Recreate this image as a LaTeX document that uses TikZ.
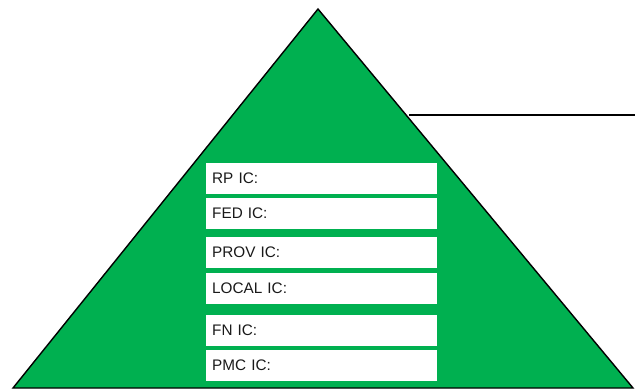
\documentclass[tikz,border=0pt]{standalone}
\usepackage{fontspec}
\setmainfont{Liberation Sans}
\definecolor{pgreen}{RGB}{0,176,80}
\begin{document}
\begin{tikzpicture}[x=1pt,y=1pt,
  icbox/.style={fill=white, draw=none, anchor=south west, minimum height=31pt,
    text width=219pt, inner xsep=6pt, inner ysep=0pt, align=left,
    font=\fontsize{15.3}{18}\selectfont, text=black!90}]
\useasboundingbox (0,0) rectangle (635,389);
\coordinate (apex) at (318,380);
\coordinate (bl) at (13,1);
\coordinate (br) at (633,1);
\draw[fill=pgreen, line width=1.4pt, line join=miter] (bl) -- (apex) -- (br) -- cycle;
\coordinate (ls) at (409,274);
\coordinate (le) at (635,274);
\draw[line width=1.4pt] (ls) -- (le);
\node[icbox] (rp) at (206,194.7) {RP IC:};
\node[icbox] (fed) at (206,159.7) {FED IC:};
\node[icbox] (prov) at (206,121.3) {PROV IC:};
\node[icbox] (local) at (206,84.7) {LOCAL IC:};
\node[icbox] (fn) at (206,43.3) {FN IC:};
\node[icbox] (pmc) at (206,8) {PMC IC:};
\end{tikzpicture}
\end{document}
